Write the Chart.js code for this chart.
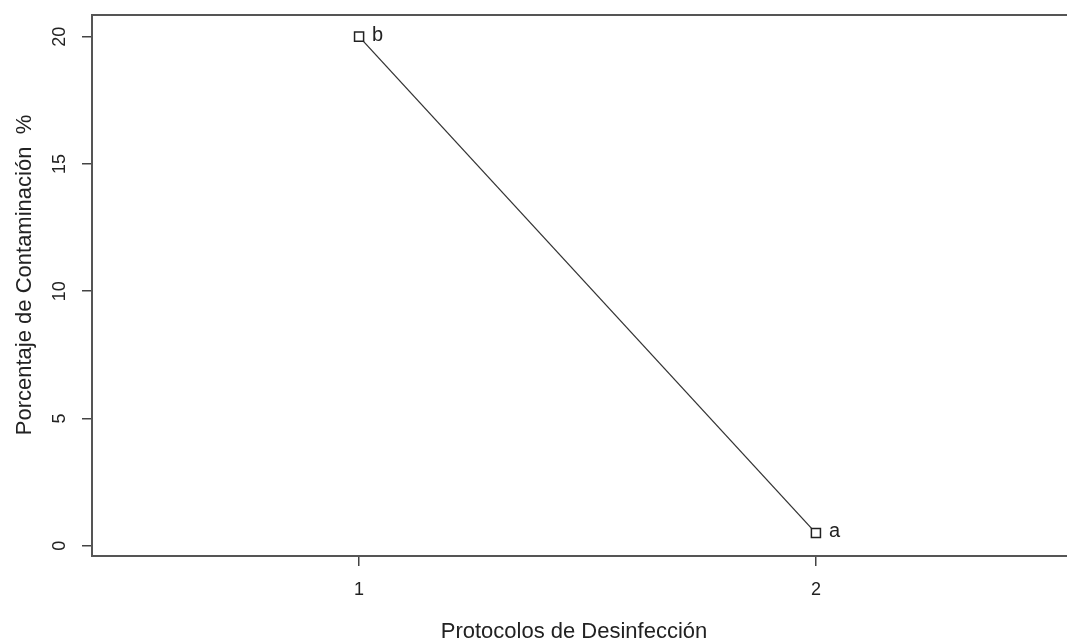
<!DOCTYPE html>
<html>
<head>
<meta charset="utf-8">
<script src="https://cdn.jsdelivr.net/npm/chart.js@4/dist/chart.umd.min.js"></script>
<style>
  html, body { margin: 0; padding: 0; background: #fff; overflow: hidden; }
  #wrap { width: 1067px; height: 641px; overflow: hidden; }
</style>
</head>
<body>
<div id="wrap"><canvas id="grafico" width="1095" height="641"></canvas></div>
<script>
// datos del grafico
var protocolos = [1, 2];
var contaminacion = [20, 0.5];
var letras = ['b', 'a'];
var ticksX = [1, 2];
var ticksY = [0, 5, 10, 15, 20];

var FONTE = '"Liberation Sans", Arial, sans-serif';

// caixa completa + textos girados como no R
var pluginCaixa = {
  id: 'caixa',
  afterDraw: function (chart) {
    var ctx = chart.ctx;
    var area = chart.chartArea;
    var y = chart.scales.y;
    var x = chart.scales.x;
    ctx.save();
    ctx.strokeStyle = '#555';
    ctx.lineWidth = 2;
    ctx.strokeRect(area.left, area.top, area.right - area.left, area.bottom - area.top);

    // rotulos do eixo y
    ctx.fillStyle = '#222';
    ctx.font = '18px ' + FONTE;
    ctx.textAlign = 'center';
    ctx.textBaseline = 'middle';
    ticksY.forEach(function (v) {
      ctx.save();
      ctx.translate(60, y.getPixelForValue(v));
      ctx.rotate(-Math.PI / 2);
      ctx.fillText(String(v), 0, 0);
      ctx.restore();
    });

    // titulo eixo y
    ctx.font = '22px ' + FONTE;
    ctx.save();
    ctx.translate(25, 275);
    ctx.rotate(-Math.PI / 2);
    ctx.fillText('Porcentaje de Contaminación  %', 0, 0);
    ctx.restore();

    // titulo eixo x
    ctx.fillText('Protocolos de Desinfección', 574, 632);

    // letras dos pontos
    ctx.font = '20px ' + FONTE;
    ctx.textAlign = 'left';
    ctx.textBaseline = 'alphabetic';
    letras.forEach(function (l, i) {
      ctx.fillText(l, x.getPixelForValue(protocolos[i]) + 13, y.getPixelForValue(contaminacion[i]) + 4);
    });
    ctx.restore();
  }
};

var dados = {
  datasets: [{
    data: protocolos.map(function (p, i) { return { x: p, y: contaminacion[i] }; }),
    borderColor: '#333',
    borderWidth: 1.3,
    pointStyle: 'rect',
    pointRadius: 6.4,
    pointBorderWidth: 1.5,
    pointBorderColor: '#222',
    pointBackgroundColor: '#fff',
    tension: 0
  }]
};

var config = {
  type: 'line',
  data: dados,
  plugins: [pluginCaixa],
  options: {
    responsive: false,
    devicePixelRatio: 1,
    animation: false,
    layout: { padding: { top: 15, right: 12, left: 0, bottom: 0 } },
    plugins: { legend: { display: false }, tooltip: { enabled: false } },
    scales: {
      x: {
        type: 'linear',
        min: 0.4154,
        max: 2.5846,
        afterBuildTicks: function (s) { s.ticks = ticksX.map(function (v) { return { value: v }; }); },
        afterFit: function (s) { s.height = 85; },
        border: { display: false },
        grid: { drawOnChartArea: false, drawTicks: true, tickLength: 10, color: '#444', lineWidth: 1.5 },
        ticks: { color: '#222', font: { family: FONTE, size: 18 }, padding: 13, maxRotation: 0 }
      },
      y: {
        type: 'linear',
        min: -0.4,
        max: 20.85,
        afterBuildTicks: function (s) { s.ticks = ticksY.map(function (v) { return { value: v }; }); },
        afterFit: function (s) { s.width = 92; },
        border: { display: false },
        grid: { drawOnChartArea: false, drawTicks: true, tickLength: 10, color: '#444', lineWidth: 1.5 },
        ticks: { display: false }
      }
    }
  }
};

var meuGrafico = new Chart(document.getElementById('grafico'), config);
</script>
</body>
</html>
